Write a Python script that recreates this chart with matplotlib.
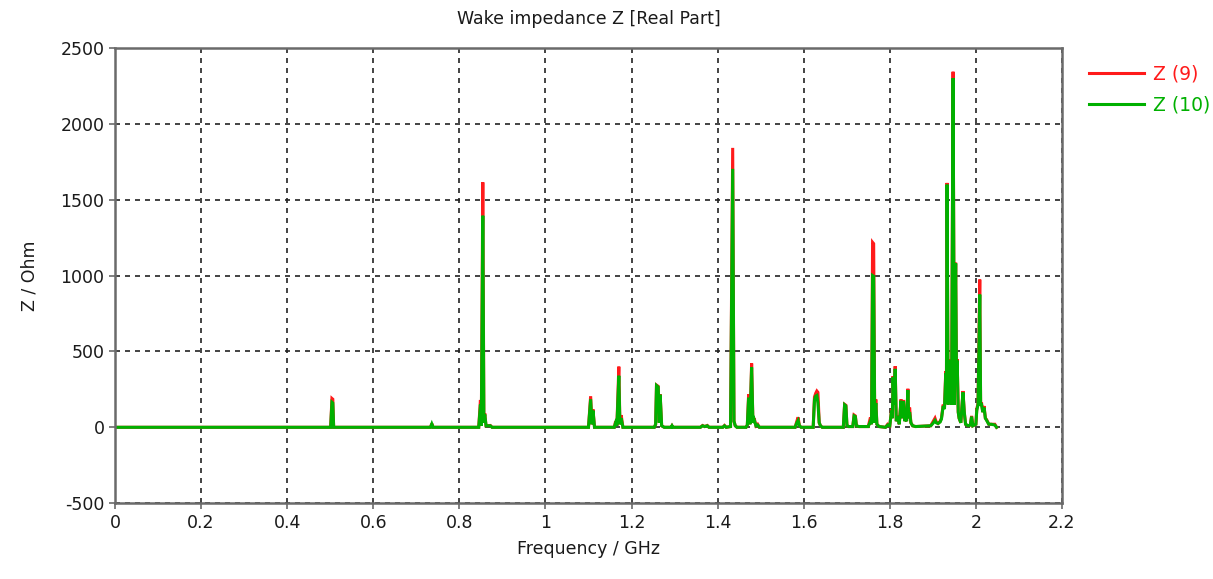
import numpy as np
import matplotlib.pyplot as plt

# frequency points of the traces (GHz) and real part of the wake impedance (Ohm)
freq_ghz = [
    0.000, 0.501, 0.504, 0.506, 0.508, 0.733, 0.736, 0.739,
    0.845, 0.849, 0.851, 0.8545, 0.857, 0.859, 0.862, 0.872, 0.876,
    1.100, 1.105, 1.108, 1.1105, 1.114, 1.160, 1.163, 1.166, 1.1705, 1.173, 1.176, 1.180,
    1.253, 1.256, 1.258, 1.262, 1.2645, 1.2665, 1.270, 1.276, 1.292, 1.294, 1.296, 1.360, 1.365, 1.370, 1.376, 1.380, 1.412, 1.416, 1.420,
    1.430, 1.435, 1.438, 1.441, 1.445, 1.466, 1.469, 1.472, 1.475, 1.479, 1.482, 1.485, 1.489, 1.493, 1.497,
    1.580, 1.584, 1.587, 1.590, 1.594, 1.622, 1.625, 1.628, 1.6305, 1.633, 1.636, 1.639, 1.643, 1.692, 1.695, 1.698, 1.7005, 1.704, 1.714, 1.717, 1.720, 1.7225, 1.728,
    1.750, 1.755, 1.7575, 1.760, 1.7625, 1.765, 1.7675, 1.770, 1.775, 1.790, 1.795, 1.800, 1.804, 1.806, 1.8075, 1.8095, 1.8125, 1.815, 1.819, 1.822, 1.826, 1.8285, 1.832, 1.835, 1.837, 1.839, 1.842, 1.844, 1.846, 1.849, 1.853, 1.860,
    1.895, 1.900, 1.905, 1.908, 1.912, 1.917, 1.920, 1.924, 1.927, 1.930, 1.9315, 1.933, 1.9355, 1.938, 1.9405, 1.9435, 1.947, 1.950, 1.953, 1.955, 1.9565, 1.959, 1.961, 1.965, 1.970, 1.973, 1.976, 1.982, 1.987, 1.990, 1.993,
    2.000, 2.002, 2.005, 2.009, 2.011, 2.013, 2.016, 2.019, 2.022, 2.025, 2.030, 2.036, 2.044, 2.048,
]
z9_ohm = [
    0, 0, 190, 185, 0, 0, 25, 0,
    0, 180, 10, 1615, 30, 92, 10, 12, 0,
    0, 205, 20, 118, 0, 0, 40, 10, 400, 20, 80, 0,
    0, 20, 278, 270, 30, 217, 10, 0, 0, 10, 0, 0, 12, 5, 12, 0, 0, 12, 0,
    5, 1842, 40, 10, 0, 0, 15, 217, 20, 421, 30, 60, 10, 20, 0,
    0, 40, 66, 10, 0, 0, 200, 225, 239, 230, 30, 10, 0, 0, 151, 145, 10, 5, 5, 81, 75, 10, 5,
    5, 65, 20, 1219, 1210, 30, 184, 20, 5, 0, 20, 10, 118, 60, 337, 150, 403, 40, 75, 20, 184, 60, 180, 40, 75, 40, 254, 60, 130, 30, 10, 5,
    10, 35, 60, 35, 25, 40, 60, 150, 130, 370, 200, 1611, 150, 447, 200, 160, 2344, 150, 1085, 300, 450, 100, 60, 30, 239, 100, 20, 10, 15, 75, 10,
    20, 118, 160, 974, 150, 164, 100, 140, 60, 50, 20, 20, 20, 0,
]
z10_ohm = [
    0, 0, 165, 160, 0, 0, 22, 0,
    0, 150, 10, 1395, 30, 85, 10, 10, 0,
    0, 185, 20, 110, 0, 0, 30, 10, 340, 20, 60, 0,
    0, 20, 275, 265, 30, 215, 10, 0, 0, 10, 0, 0, 10, 5, 10, 0, 0, 10, 0,
    5, 1704, 40, 10, 0, 0, 15, 195, 20, 395, 30, 50, 10, 15, 0,
    0, 30, 45, 10, 0, 0, 180, 206, 210, 160, 30, 10, 0, 0, 148, 140, 10, 5, 5, 75, 70, 10, 5,
    5, 40, 20, 1000, 995, 30, 160, 20, 5, 0, 15, 10, 110, 60, 330, 150, 385, 40, 70, 20, 175, 60, 170, 40, 70, 40, 245, 60, 100, 30, 10, 5,
    10, 25, 45, 30, 25, 35, 55, 140, 120, 355, 200, 1600, 150, 440, 200, 150, 2302, 150, 1080, 300, 440, 100, 60, 30, 230, 100, 20, 10, 15, 70, 10,
    20, 110, 150, 875, 150, 150, 100, 130, 60, 45, 20, 20, 15, 0,
]

x_ticks = [0, 0.2, 0.4, 0.6, 0.8, 1, 1.2, 1.4, 1.6, 1.8, 2, 2.2]
x_tick_labels = ['0', '0.2', '0.4', '0.6', '0.8', '1', '1.2', '1.4', '1.6', '1.8', '2', '2.2']
y_ticks = [-500, 0, 500, 1000, 1500, 2000, 2500]

plt.rcParams['font.family'] = ['DejaVu Sans']
plt.rcParams['axes.unicode_minus'] = False

fig = plt.figure(figsize=(12.13, 5.79), dpi=100)
ax = fig.add_axes([0.0948, 0.131, 0.7807, 0.786])

ax.plot(freq_ghz, z9_ohm, color='#ff1a1a', lw=2.2, label='Z (9)', solid_joinstyle='miter')
ax.plot(freq_ghz, z10_ohm, color='#00b000', lw=2.2, label='Z (10)', solid_joinstyle='miter')

ax.set_xlim(0, 2.2)
ax.set_ylim(-500, 2500)
ax.set_xticks(x_ticks)
ax.set_xticklabels(x_tick_labels)
ax.set_yticks(y_ticks)

ax.grid(True, color='#222222', linestyle=(0, (3, 3)), linewidth=1.2)
ax.set_axisbelow(True)
for sp in ax.spines.values():
    sp.set_color('#6a6a6a')
    sp.set_linewidth(1.8)
ax.tick_params(axis='both', labelsize=12.5, length=4, width=1.2, color='#6a6a6a', labelcolor='#1a1a1a')

ax.set_title('Wake impedance Z [Real Part]', fontsize=12.5, color='#1a1a1a', pad=17)
ax.set_xlabel('Frequency / GHz', fontsize=12.5, color='#1a1a1a', labelpad=6)
ax.set_ylabel('Z / Ohm', fontsize=12.5, color='#1a1a1a', labelpad=16)

leg = ax.legend(loc='upper left', bbox_to_anchor=(1.011, 1.0), frameon=False,
                fontsize=13.5, handlelength=2.9, labelspacing=0.6, handletextpad=0.5,
                labelcolor='linecolor')

fig.savefig('out.png', dpi=100)
